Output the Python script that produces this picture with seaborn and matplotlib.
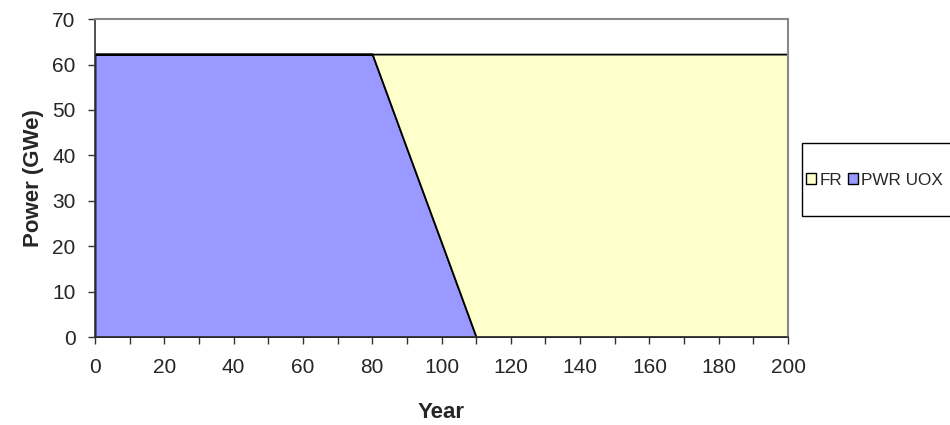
import numpy as np
import pandas as pd
import matplotlib
matplotlib.use("Agg")
import matplotlib.pyplot as plt
import seaborn as sns
from matplotlib.patches import Patch, Rectangle

# data
years = [0, 10, 20, 30, 40, 50, 60, 70, 80, 90, 100, 110, 120, 130, 140, 150, 160, 170, 180, 190, 200]
pwr_uox = [62.3, 62.3, 62.3, 62.3, 62.3, 62.3, 62.3, 62.3, 62.3, 41.5, 20.8, 0, 0, 0, 0, 0, 0, 0, 0, 0, 0]
fr = [0, 0, 0, 0, 0, 0, 0, 0, 0, 20.8, 41.5, 62.3, 62.3, 62.3, 62.3, 62.3, 62.3, 62.3, 62.3, 62.3, 62.3]

df = pd.DataFrame({"Year": years, "PWR UOX": pwr_uox, "FR": fr})

sns.set_theme(style="white")
plt.rcParams['font.family'] = ['Liberation Sans', 'DejaVu Sans']

col_pwr = "#9999ff"
col_fr = "#ffffcc"

fig = plt.figure(figsize=(9.5, 4.25), dpi=100)
ax = fig.add_axes([0.1, 0.207, 0.7295, 0.748])

ax.stackplot(df["Year"], df["PWR UOX"], df["FR"], colors=[col_pwr, col_fr],
             edgecolor="black", linewidth=1.3)

ax.set_xlim(0, 200)
ax.set_ylim(0, 70)
ax.set_xticks(range(0, 201, 20))
ax.set_xticks(range(0, 201, 10), minor=True)
ax.set_yticks(range(0, 71, 10))
ax.tick_params(axis="both", which="both", direction="out", length=5, width=1,
               color="#333333", labelsize=15, left=True, bottom=True)
ax.tick_params(axis="x", which="major", pad=10)
ax.tick_params(axis="y", which="major", pad=9)

for side in ["top", "right"]:
    ax.spines[side].set_color("#888888")
    ax.spines[side].set_linewidth(1.5)
for side in ["left", "bottom"]:
    ax.spines[side].set_color("#333333")
    ax.spines[side].set_linewidth(1.2)

ax.set_xlabel("Year", fontsize=16, fontweight="bold", labelpad=18)
ax.set_ylabel("Power (GWe)", fontsize=16, fontweight="bold", labelpad=6)

# legend box
fig.patches.append(Rectangle((802 / 950, 1 - 216 / 425), 0.16, 73 / 425,
                             transform=fig.transFigure, facecolor="white",
                             edgecolor="black", linewidth=1))
handles = [Patch(facecolor=col_fr, edgecolor="black", label="FR"),
           Patch(facecolor=col_pwr, edgecolor="black", label="PWR UOX")]
leg = fig.legend(handles=handles, ncol=2, loc="center left",
                 bbox_to_anchor=(806 / 950, 1 - 180 / 425), fontsize=12.3,
                 handlelength=0.6, handleheight=0.6, handletextpad=0.2,
                 columnspacing=0.3, borderpad=0, borderaxespad=0,
                 frameon=False)

fig.savefig("out.png", dpi=100)
